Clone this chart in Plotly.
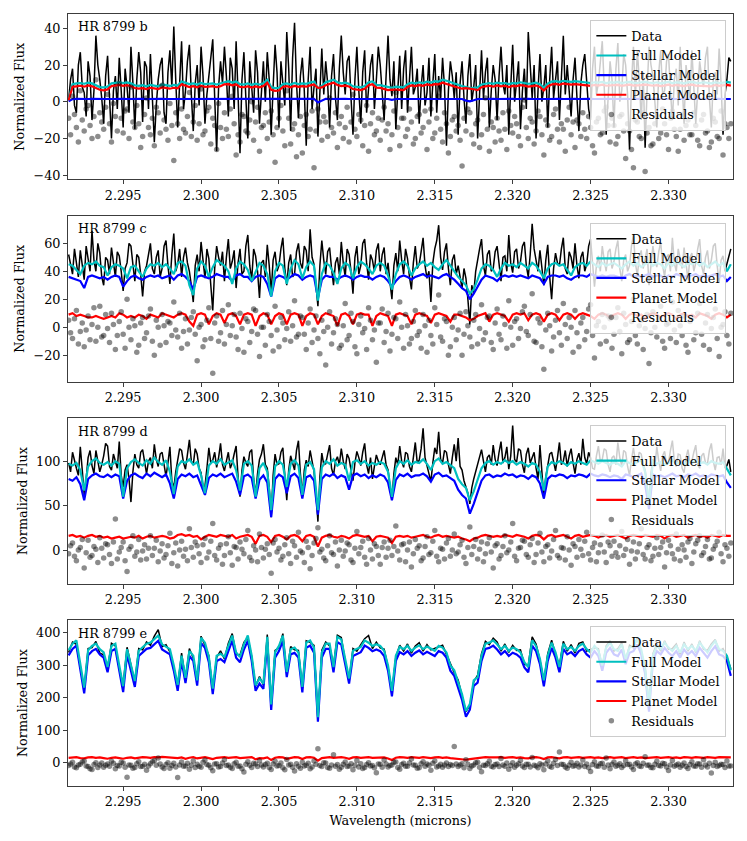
import plotly.graph_objects as go

# fine wavelength grid (microns); the models use every other point
wavelength_fine = [
    2.2915, 2.291625, 2.29175, 2.291875, 2.292, 2.292125, 2.29225, 2.292375,
    2.2925, 2.292625, 2.29275, 2.292875, 2.293, 2.293125, 2.29325, 2.293375,
    2.2935, 2.293625, 2.29375, 2.293875, 2.294, 2.294125, 2.29425, 2.294375,
    2.2945, 2.294625, 2.29475, 2.294875, 2.295, 2.295125, 2.29525, 2.295375,
    2.2955, 2.295625, 2.29575, 2.295875, 2.296, 2.296125, 2.29625, 2.296375,
    2.2965, 2.296625, 2.29675, 2.296875, 2.297, 2.297125, 2.29725, 2.297375,
    2.2975, 2.297625, 2.29775, 2.297875, 2.298, 2.298125, 2.29825, 2.298375,
    2.2985, 2.298625, 2.29875, 2.298875, 2.299, 2.299125, 2.29925, 2.299375,
    2.2995, 2.299625, 2.29975, 2.299875, 2.3, 2.300125, 2.30025, 2.300375,
    2.3005, 2.300625, 2.30075, 2.300875, 2.301, 2.301125, 2.30125, 2.301375,
    2.3015, 2.301625, 2.30175, 2.301875, 2.302, 2.302125, 2.30225, 2.302375,
    2.3025, 2.302625, 2.30275, 2.302875, 2.303, 2.303125, 2.30325, 2.303375,
    2.3035, 2.303625, 2.30375, 2.303875, 2.304, 2.304125, 2.30425, 2.304375,
    2.3045, 2.304625, 2.30475, 2.304875, 2.305, 2.305125, 2.30525, 2.305375,
    2.3055, 2.305625, 2.30575, 2.305875, 2.306, 2.306125, 2.30625, 2.306375,
    2.3065, 2.306625, 2.30675, 2.306875, 2.307, 2.307125, 2.30725, 2.307375,
    2.3075, 2.307625, 2.30775, 2.307875, 2.308, 2.308125, 2.30825, 2.308375,
    2.3085, 2.308625, 2.30875, 2.308875, 2.309, 2.309125, 2.30925, 2.309375,
    2.3095, 2.309625, 2.30975, 2.309875, 2.31, 2.310125, 2.31025, 2.310375,
    2.3105, 2.310625, 2.31075, 2.310875, 2.311, 2.311125, 2.31125, 2.311375,
    2.3115, 2.311625, 2.31175, 2.311875, 2.312, 2.312125, 2.31225, 2.312375,
    2.3125, 2.312625, 2.31275, 2.312875, 2.313, 2.313125, 2.31325, 2.313375,
    2.3135, 2.313625, 2.31375, 2.313875, 2.314, 2.314125, 2.31425, 2.314375,
    2.3145, 2.314625, 2.31475, 2.314875, 2.315, 2.315125, 2.31525, 2.315375,
    2.3155, 2.315625, 2.31575, 2.315875, 2.316, 2.316125, 2.31625, 2.316375,
    2.3165, 2.316625, 2.31675, 2.316875, 2.317, 2.317125, 2.31725, 2.317375,
    2.3175, 2.317625, 2.31775, 2.317875, 2.318, 2.318125, 2.31825, 2.318375,
    2.3185, 2.318625, 2.31875, 2.318875, 2.319, 2.319125, 2.31925, 2.319375,
    2.3195, 2.319625, 2.31975, 2.319875, 2.32, 2.320125, 2.32025, 2.320375,
    2.3205, 2.320625, 2.32075, 2.320875, 2.321, 2.321125, 2.32125, 2.321375,
    2.3215, 2.321625, 2.32175, 2.321875, 2.322, 2.322125, 2.32225, 2.322375,
    2.3225, 2.322625, 2.32275, 2.322875, 2.323, 2.323125, 2.32325, 2.323375,
    2.3235, 2.323625, 2.32375, 2.323875, 2.324, 2.324125, 2.32425, 2.324375,
    2.3245, 2.324625, 2.32475, 2.324875, 2.325, 2.325125, 2.32525, 2.325375,
    2.3255, 2.325625, 2.32575, 2.325875, 2.326, 2.326125, 2.32625, 2.326375,
    2.3265, 2.326625, 2.32675, 2.326875, 2.327, 2.327125, 2.32725, 2.327375,
    2.3275, 2.327625, 2.32775, 2.327875, 2.328, 2.328125, 2.32825, 2.328375,
    2.3285, 2.328625, 2.32875, 2.328875, 2.329, 2.329125, 2.32925, 2.329375,
    2.3295, 2.329625, 2.32975, 2.329875, 2.33, 2.330125, 2.33025, 2.330375,
    2.3305, 2.330625, 2.33075, 2.330875, 2.331, 2.331125, 2.33125, 2.331375,
    2.3315, 2.331625, 2.33175, 2.331875, 2.332, 2.332125, 2.33225, 2.332375,
    2.3325, 2.332625, 2.33275, 2.332875, 2.333, 2.333125, 2.33325, 2.333375,
    2.3335, 2.333625, 2.33375, 2.333875, 2.334,
]
wavelength = wavelength_fine[::2]

# ---- HR 8799 b ----
b_data = [
    1, 12, 18, -2, -6, 20, 27, 8, 5, -8, 22, 14, -10, 6, 36, 20, 12, 2, -12, 14,
    25, 4, -20, 6, 14, -4, 24, 6, -14, 18, 8, -6, 30, 10, -15, 12, 27, 16, -11, 22,
    19, -4, 26, 2, -22, -2, 12, 20, 24, -6, -12, 16, 28, 8, 41, 12, -14, 10, 33, -4,
    6, 22, 31, 4, -16, 10, 20, -2, 30, 14, -12, 4, 14, 24, 34, 2, -27, 8, 22, 10,
    30, 14, -8, 24, 18, -4, 33, 4, -28, 12, 27, 2, -20, 22, 10, -6, 28, 16, -12, 6,
    22, 0, 27, 12, -18, 8, 31, 16, -14, 22, 9, -2, 38, 18, -16, 24, 43, 10, -9, 14,
    24, 6, -24, 12, 30, -4, 8, 18, -19, 10, 29, 4, 22, 10, -14, 14, 26, 2, -10, 18,
    36, 16, 4, 22, 25, 2, -18, 12, 30, 6, -12, 16, 28, -6, 6, 20, 26, -4, 12, 30,
    20, 6, -10, 14, 36, 12, 3, 22, -15, 6, 25, -4, 18, 28, -6, 12, 30, 4, 8, 18,
    -12, 8, 20, -2, 5, 24, -8, 10, 26, -6, 14, 2, 24, 8, -24, 6, 22, 14, 2, 16,
    -18, 10, 22, 2, -12, 14, 26, 0, 8, 20, -20, 4, 28, 2, 16, 24, -14, 6, 20, 12,
    -10, 14, 30, 10, 4, 20, -18, 8, 31, 0, 12, 22, -15, 6, 18, -4, 38, 16, 2, 20,
    -20, 6, 26, 0, 8, 20, -14, 12, 30, 2, 14, 22, -10, 10, 36, 4, 20, 6, -8, 12,
    24, 2, -16, 10, 20, 26, 8, -4, -10, 18, 30, 4, 10, 20, 33, 8, -18, 2, 22, 12,
    -14, 18, 32, 0, 6, 26, 20, 4, -26, 10, 30, 2, 28, 12, -10, 16, -25, 6, 30, 20,
    14, 0, -14, 16, 28, 4, 6, 22, 26, 6, -10, 12, 18, -2, 30, 10, -12, 20, 10, 2,
    28, 10, -12, 6, 22, 14, 8, 24, 30, 2, -14, 12, 16, 4, 29, 10, -18, 4, 12, 24,
    22,
]
b_full = [
    1.0, 9.5, 10.0, 10.2, 9.8, 10.4, 10.0, 9.0, 8.0, 7.8,
    8.2, 10.0, 10.4, 10.6, 10.2, 10.5, 10.0, 9.0, 8.6, 9.0,
    8.4, 9.2, 8.8, 8.4, 9.4, 9.0, 8.6, 9.2, 8.8, 11.0,
    10.4, 9.6, 10.0, 9.4, 10.2, 9.6, 9.8, 10.0, 9.4, 10.0,
    11.0, 11.2, 10.4, 11.0, 9.6, 9.4, 10.0, 9.2, 9.8, 9.4,
    10.0, 12.0, 8.0, 7.4, 7.6, 9.6, 10.0, 9.4, 10.2, 9.6,
    10.0, 9.8, 10.4, 11.0, 7.2, 8.6, 10.6, 11.4, 12.0, 10.6,
    10.0, 10.4, 9.8, 8.4, 8.0, 7.8, 8.6, 10.6, 11.0, 9.2,
    9.0, 8.6, 7.8, 7.6, 8.2, 8.0, 7.8, 9.6, 10.4, 10.0,
    10.6, 10.2, 11.0, 10.4, 11.2, 11.0, 12.0, 11.4, 10.6, 9.8,
    9.0, 8.6, 8.0, 7.4, 7.6, 7.8, 9.4, 10.0, 10.2, 9.8,
    10.4, 10.0, 10.2, 9.6, 10.2, 10.0, 10.6, 10.2, 9.8, 10.0,
    10.4, 9.6, 7.6, 9.8, 11.0, 11.2, 10.8, 11.4, 11.0, 10.8,
    11.2, 11.0, 10.6, 10.4, 10.2, 10.6, 10.4, 10.8, 10.2, 10.6,
    10.4, 10.8, 10.2, 10.6, 10.8, 10.4, 10.2, 10.6, 10.8, 10.4,
    10.2, 10.6, 10.0, 10.4, 10.8, 10.2, 10.6, 10.4, 10.0, 10.6,
    10.8, 10.4, 10.2, 10.6, 10.4, 10.0, 10.6, 10.2, 10.4, 10.8,
    10.4,
]
b_stellar = [
    0.2, 1.4, 1.6, 1.5, 1.6, 1.5, 1.6, 1.5, 1.5, 1.6,
    1.5, 1.5, 1.6, 1.5, 1.6, 1.5, 1.6, 1.5, 1.5, 1.6,
    1.5, 1.6, 1.5, 1.5, 1.6, 1.5, 1.5, 1.6, 1.5, 1.5,
    1.5, 1.6, 1.5, 1.5, 1.6, 1.5, 1.6, 1.5, 1.5, 1.6,
    1.5, 1.6, 1.5, 1.6, 1.5, 1.5, 1.6, 1.5, 1.5, 1.6,
    1.5, 1.6, 1.5, 1.5, 1.5, 1.6, 1.5, 1.5, 1.6, 1.5,
    1.5, 1.6, 1.5, 1.6, -0.4, 0.8, 1.6, 1.5, 1.6, 1.5,
    1.5, 1.6, 1.5, 1.5, 1.6, 1.5, 1.5, 1.6, 1.5, 1.5,
    1.5, 1.5, 1.5, 1.0, 1.5, 1.5, 1.5, 1.6, 1.5, 1.5,
    1.6, 1.5, 1.6, 1.5, 1.6, 1.5, 1.6, 1.5, 1.6, 1.5,
    1.5, 1.5, 0.6, 0.2, 0.8, 1.5, 1.5, 1.6, 1.5, 1.6,
    1.5, 1.6, 1.5, 1.6, 1.6, 1.5, 1.6, 1.5, 1.6, 1.5,
    1.6, 1.5, 1.5, 1.5, 1.6, 1.5, 1.6, 1.5, 1.6, 1.5,
    1.6, 1.5, 1.6, 1.5, 1.6, 1.5, 1.6, 1.5, 1.5, 1.6,
    1.5, 1.6, 1.5, 1.6, 1.5, 1.6, 1.5, 1.6, 1.5, 1.6,
    1.5, 1.6, 1.5, 1.6, 1.5, 1.6, 1.5, 1.6, 1.5, 1.6,
    1.5, 1.6, 1.5, 1.6, 1.5, 1.6, 1.5, 1.6, 1.5, 1.6,
    1.5,
]
b_planet = [
    0.8, 8.1, 8.4, 8.7, 8.2, 8.9, 8.4, 7.5, 6.5, 6.2,
    6.7, 8.5, 8.8, 9.1, 8.6, 9.0, 8.4, 7.5, 7.1, 7.4,
    6.9, 7.6, 7.3, 6.9, 7.8, 7.5, 7.1, 7.6, 7.3, 9.5,
    8.9, 8.0, 8.5, 7.9, 8.6, 8.1, 8.2, 8.5, 7.9, 8.4,
    9.5, 9.6, 8.9, 9.4, 8.1, 7.9, 8.4, 7.7, 8.3, 7.8,
    8.5, 10.4, 6.5, 5.9, 6.1, 8.0, 8.5, 7.9, 8.6, 8.1,
    8.5, 8.2, 8.9, 9.4, 7.6, 7.8, 9.0, 9.9, 10.4, 9.1,
    8.5, 8.8, 8.3, 6.9, 6.4, 6.3, 7.1, 9.0, 9.5, 7.7,
    7.5, 7.1, 6.3, 6.6, 6.7, 6.5, 6.3, 8.0, 8.9, 8.5,
    9.0, 8.7, 9.4, 8.9, 9.6, 9.5, 10.4, 9.9, 9.0, 8.3,
    7.5, 7.1, 7.4, 7.2, 6.8, 6.3, 7.9, 8.4, 8.7, 8.2,
    8.9, 8.4, 8.7, 8.0, 8.6, 8.5, 9.0, 8.7, 8.2, 8.5,
    8.8, 8.1, 6.1, 8.3, 9.4, 9.7, 9.2, 9.9, 9.4, 9.3,
    9.6, 9.5, 9.0, 8.9, 8.6, 9.1, 8.8, 9.3, 8.7, 9.0,
    8.9, 9.2, 8.7, 9.0, 9.3, 8.8, 8.7, 9.0, 9.3, 8.8,
    8.7, 9.0, 8.5, 8.8, 9.3, 8.6, 9.1, 8.8, 8.5, 9.0,
    9.3, 8.8, 8.7, 9.0, 8.9, 8.4, 9.1, 8.6, 8.9, 9.2,
    8.8,
]
b_resid = [
    -9, -18, 3, -7, -14, -22, 6, -10, -16, -4, -2, -13, -20, -8, 12, -19, -6, -11, -15, -3,
    4, -12, -22, -1, -8, -16, 10, -9, -17, -5, -4, -20, 8, -11, -14, -2, -12, -25, -19, -7,
    2, -14, -18, -9, -24, -3, -6, -17, 9, -10, -15, -21, -1, -13, -32, -6, -12, -20, -4, -15,
    -17, -8, 5, -19, -11, -2, -21, -12, 7, -18, -16, -5, -3, -23, -9, -13, -26, -1, -14, -20,
    -6, -15, -19, -4, 3, -12, -29, -18, -22, -7, -8, -16, -17, -10, 0, -21, -11, -3, -27, -14,
    -13, -6, -20, -11, -5, -18, -33, -14, -9, -2, -16, -24, 6, -9, -23, -15, -12, -30, -18, -8,
    -28, -13, -7, -19, -15, -5, -36, -16, -4, -11, -21, -8, -11, -19, 2, -14, -17, -6, -25, -12,
    -8, -20, -14, -3, -22, -11, 4, -15, -19, -7, -10, -24, -13, -2, -27, -12, -6, -18, -16, -9,
    -21, -10, -3, -16, -12, -26, -18, -5, 5, -14, -24, -9, -9, -19, -15, -4, -11, -23, -20, -8,
    -7, -17, -14, -5, -26, -11, -4, -20, -17, -9, 3, -15, -22, -6, -12, -28, -19, -10, -8, -16,
    -13, -21, -35, -9, -16, -4, -6, -18, -23, -12, -10, -25, -18, -7, 2, -15, -27, -11, -14, -22,
    -9, -16, -21, -6, -15, -26, -5, -13, -17, -8, -12, -19, -24, -3, 1, -14, -20, -9, -11, -23,
    -16, -5, -8, -18, -29, -10, -13, -21, -19, -7, -4, -15, -22, -12, -15, -27, -10, -3, -18, -11,
    -25, -10, -12, -19, -6, -15, -20, -8, -14, -24, -28, -11, -9, -18, -17, -5, -3, -13, -22, -9,
    -13, -23, -19, -8, -7, -16, -31, -12, -16, -26, -36, -10, -11, -19, -20, -6, -38, -17, -14, -24,
    -23, -12, -8, -20, -17, -4, -12, -18, -26, -9, -5, -15, -19, -27, -15, -7, -21, -13, -10, -18,
    -18, -6, -13, -21, -24, -10, -7, -17, -16, -25, -22, -9, -11, -19, -20, -5, -29, -12, -14, -20,
    -12,
]

# ---- HR 8799 c ----
c_data = [
    52, 44, 38, 56, 47, 36, 55, 42, 34, 58, 50, 40, 69, 48, 40, 60, 53, 36, 30, 50,
    48, 38, 57, 44, 36, 54, 51, 40, 26, 42, 46, 60, 58, 45, 33, 52, 50, 38, 22, 40,
    44, 52, 60, 42, 38, 50, 55, 36, 42, 58, 62, 44, 31, 52, 67, 40, 45, 56, 36, 50,
    57, 46, 40, 30, 18, 44, 52, 40, 61, 48, 35, 56, 49, 30, 12, 42, 58, 50, 44, 54,
    33, 50, 63, 42, 47, 55, 28, 46, 56, 38, 40, 58, 66, 44, 34, 56, 51, 40, 21, 46,
    48, 36, 59, 44, 25, 48, 54, 40, 44, 56, 64, 42, 30, 46, 52, 36, 38, 54, 60, 46,
    42, 58, 55, 40, 70, 50, 45, 30, 15, 44, 62, 48, 38, 54, 57, 42, 30, 46, 50, 38,
    61, 46, 36, 56, 52, 40, 24, 50, 58, 38, 44, 60, 63, 46, 34, 52, 48, 40, 55, 60,
    40, 52, 57, 38, 46, 32, 20, 44, 53, 40, 62, 48, 38, 56, 49, 36, 27, 46, 58, 42,
    45, 54, 64, 44, 35, 40, 18, 46, 56, 62, 73, 50, 41, 54, 60, 42, 30, 48, 52, 38,
    44, 36, 28, 42, 35, 20, 2, 30, 24, 40, 49, 56, 63, 44, 37, 52, 55, 40, 42, 54,
    58, 44, 33, 50, 51, 40, 66, 46, 39, 54, 56, 42, 47, 58, 61, 44, 36, 52, 74, 56,
    48, 40, 55, 44, 30, 48, 59, 36, 20, 42, 53, 46, 44, 56, 64, 42, 38, 54, 50, 42,
    60, 44, 35, 50, 54, 40, 45, 58, 63, 46, 29, 44, 51, 40, 58, 48, 40, 54, 56, 42,
    47, 56, 62, 42, 33, 48, 52, 40, 44, 58, 66, 46, 37, 50, 55, 42, 49, 56, 30, 46,
    58, 48, 43, 54, 61, 44, 36, 50, 52, 40, 64, 46, 40, 56, 50, 42, 57, 46, 34, 50,
    53, 40, 46, 56, 63, 44, 38, 50, 55, 42, 48, 58, 60, 44, 32, 48, 51, 40, 45, 52,
    56,
]
c_full = [
    45, 44, 41, 38, 44, 46, 45, 47, 44, 43,
    37, 43, 45, 44, 42, 35, 43, 44, 40, 36,
    42, 45, 44, 46, 43, 45, 42, 38, 46, 47,
    44, 30, 23, 42, 47, 44, 36, 43, 48, 46,
    44, 40, 31, 42, 47, 45, 41, 33, 40, 46,
    44, 38, 22, 40, 46, 44, 31, 42, 48, 45,
    35, 43, 47, 44, 19, 38, 46, 44, 39, 31,
    42, 46, 44, 35, 43, 47, 45, 42, 38, 44,
    46, 44, 37, 27, 38, 45, 47, 44, 37, 42,
    45, 47, 44, 46, 43, 41, 45, 48, 44, 40,
    36, 33, 30, 24, 27, 34, 42, 45, 44, 41,
    36, 42, 46, 44, 45, 43, 46, 44, 42, 46,
    44, 40, 35, 42, 45, 46, 44, 45, 41, 37,
    43, 45, 46, 44, 47, 45, 43, 46, 44, 45,
    46, 44, 42, 45, 47, 44, 46, 43, 45, 47,
    44, 46, 45, 42, 46, 44, 47, 45, 43, 46,
    45, 47, 44, 46, 43, 45, 47, 44, 46, 40,
    45,
]
c_stellar = [
    36, 35, 34, 33, 28, 36, 37, 36, 35, 36,
    34, 36, 37, 36, 29, 33, 36, 37, 35, 34,
    36, 37, 36, 37, 35, 36, 37, 34, 37, 38,
    36, 33, 27, 36, 37, 36, 35, 36, 38, 37,
    36, 36, 33, 37, 38, 36, 36, 33, 36, 37,
    36, 31, 22, 35, 37, 36, 34, 36, 38, 37,
    34, 36, 37, 36, 21, 34, 37, 36, 36, 34,
    36, 37, 36, 34, 36, 37, 36, 36, 34, 36,
    37, 36, 33, 29, 33, 36, 37, 36, 34, 36,
    37, 38, 36, 37, 36, 35, 37, 38, 36, 34,
    31, 28, 26, 20, 24, 29, 34, 37, 36, 35,
    33, 36, 37, 36, 37, 36, 37, 36, 35, 37,
    36, 35, 31, 36, 37, 37, 36, 37, 35, 34,
    36, 37, 37, 36, 38, 37, 36, 37, 36, 37,
    37, 36, 35, 37, 38, 36, 37, 36, 37, 38,
    36, 37, 37, 35, 37, 36, 38, 37, 36, 37,
    37, 38, 36, 37, 36, 37, 38, 36, 37, 33,
    36,
]
c_planet = [
    9, 10, 8, 9, 8, 7, 7, 8, 7, 6,
    7, 8, 7, 10, 9, 7, 8, 7, 9, 8,
    6, 9, 8, 7, 10, 9, 8, 7, 9, 10,
    9, 4, 1, 9, 10, 9, 2, 8, 10, 9,
    3, 9, 10, 8, 2, 9, 10, 9, 1, 8,
    10, 9, 2, 8, 10, 9, 2, 9, 10, 9,
    1, 8, 10, 9, 2, 8, 10, 9, 8, 1,
    9, 10, 8, 2, 9, 10, 9, 9, 1, 8,
    10, 9, 8, 1, 9, 10, 9, 8, 2, 9,
    10, 9, 8, 3, 9, 10, 9, 8, 4, 9,
    9, 8, 7, 5, 6, 8, 9, 10, 4, 9,
    10, 9, 8, 4, 9, 10, 9, 10, 5, 9,
    10, 9, 4, 9, 10, 9, 5, 9, 10, 9,
    6, 9, 10, 9, 8, 6, 9, 10, 9, 7,
    9, 10, 9, 6, 9, 10, 8, 9, 6, 9,
    10, 9, 7, 9, 10, 9, 6, 9, 10, 8,
    9, 7, 10, 9, 8, 6, 9, 10, 9, 7,
    9,
]
c_resid = [
    5, -4, -8, 6, 12, -12, -3, 3, -14, -2, 8, -9, 2, 14, -10, 0, 15, -7, -6, 9,
    -1, -11, 10, 2, -16, -6, 4, 11, -5, -15, 20, 0, -9, 6, 1, -18, -13, 3, 7, -8,
    -4, 8, 13, -10, -20, 5, 0, -13, 9, 1, -11, 4, 3, -6, 18, -2, -7, 10, -15, -3,
    6, -12, -2, 7, 11, -5, -24, 0, 2, -14, -9, 5, 14, -8, -33, 3, 8, -10, -4, 12,
    -12, 2, 16, -6, 1, 9, -7, -16, 10, -1, -18, 6, 4, -11, -3, 13, 12, -5, -21, 0,
    0, -13, 9, 4, -6, -17, 15, -2, -14, 7, 3, -9, -1, 11, -10, 1, 19, -7, -5, 8,
    7, -5, -16, 3, 13, -11, -2, 8, -8, -19, 5, -3, -27, 0, 11, -12, -4, 6, 2, -15,
    -13, 1, 17, -9, -6, 10, 4, -14, -19, 2, 8, -4, -1, -16, 14, 5, -9, -2, -25, 3,
    3, 13, -11, -3, 10, -17, -5, 7, 6, -8, 18, 0, -15, 9, 1, -12, -8, 4, 12, -6,
    -3, -15, 9, 1, -18, 5, -6, -12, 14, 2, 23, -7, -10, 6, 4, -20, -14, 0, 7, -9,
    -2, 10, -20, -5, 11, 1, -7, -14, 5, 9, -12, -1, 16, -9, -4, 7, 8, -11, -16, 3,
    13, -5, -9, 8, 2, -15, 19, 0, -13, 4, 6, -8, -1, 11, 15, -3, -6, 9, 24, -10,
    -11, 6, 3, -14, -30, -2, 10, 1, -17, -7, 5, 12, -4, -13, 17, 2, -8, 7, 0, -18,
    12, -4, -14, 3, 7, -9, -3, 13, 16, -6, -22, 1, 4, -12, 9, 0, -10, 8, 6, -15,
    -5, 7, 14, -3, -19, 10, 2, -11, -9, 4, 20, -6, -12, 1, 5, -16, -1, 9, -26, -4,
    11, 0, -7, 6, 15, -10, -15, 2, 3, -8, 18, -2, -11, 12, 1, -6, 8, -13, -18, 4,
    6, -9, -4, 10, 17, -5, -13, 3, 9, -16, -1, 7, 13, -8, -21, 0, 2, 11, -6, -12,
    10,
]

# ---- HR 8799 d ----
d_data = [
    98, 88, 110, 100, 92, 84, 116, 90, 62, 80, 104, 112, 95, 86, 112, 100, 88, 96, 106, 120,
    117, 94, 90, 108, 101, 92, 122, 84, 71, 90, 96, 80, 54, 88, 108, 96, 92, 110, 113, 98,
    86, 100, 104, 92, 119, 102, 94, 108, 110, 96, 83, 98, 116, 78, 70, 88, 100, 114, 112, 98,
    91, 106, 124, 100, 96, 114, 108, 92, 87, 68, 72, 92, 115, 98, 101, 110, 93, 104, 120, 96,
    89, 100, 110, 92, 98, 108, 117, 82, 60, 90, 105, 98, 94, 110, 113, 80, 62, 86, 102, 108,
    119, 96, 92, 70, 37, 84, 108, 96, 97, 110, 115, 84, 56, 90, 106, 98, 90, 112, 123, 86,
    62, 90, 101, 94, 112, 100, 88, 64, 32, 82, 109, 96, 97, 108, 118, 92, 84, 100, 105, 96,
    114, 100, 91, 108, 103, 90, 78, 98, 111, 104, 95, 110, 120, 96, 86, 104, 80, 94, 107, 100,
    96, 104, 112, 96, 90, 72, 58, 86, 104, 96, 117, 100, 93, 110, 108, 94, 88, 104, 121, 98,
    101, 114, 137, 104, 94, 86, 77, 98, 115, 108, 133, 102, 98, 112, 110, 96, 86, 104, 119, 100,
    126, 94, 90, 78, 72, 64, 52, 70, 80, 88, 96, 106, 113, 100, 88, 104, 107, 96, 118, 102,
    95, 110, 122, 98, 104, 116, 91, 106, 140, 102, 99, 114, 112, 96, 87, 108, 115, 98, 103, 110,
    92, 80, 118, 84, 58, 82, 96, 108, 110, 98, 89, 104, 121, 96, 100, 112, 94, 106, 114, 98,
    86, 102, 109, 96, 125, 104, 97, 110, 104, 92, 91, 106, 117, 100, 102, 114, 112, 96, 88, 104,
    106, 96, 121, 104, 95, 112, 110, 94, 84, 102, 115, 100, 99, 110, 108, 96, 90, 72, 50, 86,
    102, 94, 116, 100, 89, 106, 111, 96, 98, 112, 123, 100, 94, 108, 107, 92, 87, 104, 113, 98,
    100, 110, 118, 96, 92, 106, 109, 98, 97, 112, 120, 100, 90, 104, 105, 96, 114, 92, 95, 102,
    88,
]
d_full = [
    97, 95, 98, 90, 67, 94, 100, 103, 98, 96,
    99, 95, 100, 97, 60, 92, 99, 102, 98, 95,
    101, 97, 104, 99, 96, 101, 88, 63, 94, 100,
    98, 102, 96, 99, 84, 64, 95, 100, 97, 102,
    96, 99, 101, 90, 67, 97, 100, 95, 60, 92,
    98, 88, 45, 94, 100, 96, 71, 97, 101, 95,
    62, 96, 99, 91, 45, 93, 100, 97, 102, 95,
    98, 96, 78, 99, 101, 97, 100, 95, 98, 96,
    99, 97, 88, 60, 92, 100, 97, 101, 96, 99,
    98, 102, 97, 90, 100, 103, 97, 99, 95, 92,
    80, 74, 70, 56, 66, 78, 92, 98, 100, 96,
    99, 97, 101, 98, 100, 96, 99, 97, 94, 98,
    96, 88, 67, 94, 99, 97, 100, 98, 95, 99,
    97, 100, 98, 96, 101, 99, 97, 100, 98, 96,
    99, 97, 94, 100, 98, 96, 99, 101, 88, 52,
    100, 97, 99, 96, 98, 101, 97, 99, 96, 100,
    98, 101, 97, 99, 96, 100, 98, 97, 99, 92,
    84,
]
d_stellar = [
    80, 78, 82, 74, 56, 80, 84, 86, 83, 82,
    85, 82, 85, 83, 58, 78, 84, 86, 83, 81,
    86, 83, 87, 84, 82, 85, 75, 58, 80, 85,
    83, 86, 82, 84, 72, 62, 81, 85, 83, 86,
    82, 84, 86, 77, 62, 83, 85, 81, 58, 79,
    84, 76, 37, 80, 85, 82, 64, 83, 86, 81,
    58, 82, 84, 78, 40, 80, 85, 83, 86, 81,
    84, 82, 68, 84, 86, 83, 85, 81, 84, 82,
    85, 83, 76, 56, 79, 85, 83, 86, 82, 84,
    84, 86, 83, 77, 85, 87, 83, 84, 81, 78,
    68, 62, 58, 41, 52, 64, 78, 84, 85, 82,
    84, 83, 86, 84, 85, 82, 84, 83, 80, 84,
    82, 75, 58, 80, 84, 83, 85, 84, 81, 84,
    83, 85, 84, 82, 86, 84, 83, 85, 84, 82,
    84, 83, 80, 85, 84, 82, 84, 86, 74, 46,
    85, 83, 84, 82, 84, 86, 83, 84, 82, 85,
    84, 86, 83, 84, 82, 85, 84, 83, 84, 76,
    70,
]
d_planet = [
    16, 17, 15, 16, 14, 16, 17, 15, 16, 14,
    15, 13, 14, 15, 13, 14, 15, 14, 16, 13,
    15, 16, 14, 15, 16, 15, 13, 14, 17, 18,
    16, 17, 15, 16, 12, 15, 17, 16, 15, 17,
    16, 15, 17, 13, 15, 16, 17, 15, 7, 16,
    17, 15, 9, 16, 17, 15, 12, 16, 17, 15,
    10, 16, 17, 15, 4, 14, 16, 17, 15, 14,
    16, 15, 13, 16, 17, 16, 15, 16, 10, 15,
    16, 15, 14, 8, 15, 16, 15, 16, 14, 15,
    16, 17, 15, 14, 16, 17, 15, 16, 15, 14,
    15, 13, 12, 10, 13, 14, 16, 17, 16, 15,
    16, 15, 17, 16, 15, 17, 16, 15, 13, 16,
    17, 16, 12, 16, 17, 15, 16, 17, 15, 13,
    16, 17, 15, 16, 17, 16, 14, 16, 17, 15,
    16, 17, 15, 13, 16, 17, 16, 15, 17, 16,
    15, 17, 16, 13, 16, 17, 15, 16, 17, 14,
    16, 17, 15, 16, 14, 17, 16, 15, 17, 16,
    16,
]
d_resid = [
    -4, 5, 8, -7, -12, 0, 3, 12, -20, -3, 11, -8, -6, 4, 1, -14, 14, 2, -9, 7,
    6, -5, -15, 9, 35, -10, -2, 3, 9, -12, -24, 1, 4, 16, -7, -2, 12, -11, -1, 6,
    -10, 2, 16, -6, 2, 11, -13, -1, 7, -9, -5, 5, 19, -15, -3, 8, -18, 0, 10, -7,
    1, -12, 24, 3, -8, 9, 5, -4, -14, 6, 13, -9, -2, 10, 30, -6, -11, 2, 6, -16,
    -6, 7, 15, -3, -17, 4, 3, -10, 9, 1, -4, 12, 22, -8, -12, 5, 0, -13, 18, 3,
    -9, 1, 7, -5, -26, 8, 12, -2, 2, -11, -7, 6, 14, -4, -15, 10, 5, -8, 20, -1,
    -3, -14, 10, 3, -21, -6, 8, 13, 25, -2, 1, -9, -12, 5, 16, -3, -5, 9, -18, 0,
    11, -7, -1, 8, 6, -11, -14, 2, 21, -4, 3, 10, -8, -16, 13, 0, -10, 7, 4, -6,
    -16, 3, 9, -8, 2, 11, -6, 4, 27, -1, -11, 6, 7, -13, 0, 9, -19, -4, 12, 2,
    5, -12, -9, 4, 15, -5, -3, 10, 22, -7, -13, 2, 1, -10, 8, 13, -7, 0, 18, -4,
    -2, 6, 11, -8, -15, 3, 26, -5, 4, 12, -10, 1, 9, -13, -4, 7, 14, -2, -20, 5,
    7, -10, -6, 4, 16, -3, 0, 9, 30, -7, -12, 2, 3, 11, 10, -5, -8, 6, 13, -14,
    -5, 8, 19, -2, -13, 4, 6, -9, -1, 12, 22, -6, -9, 3, 2, -11, 15, 0, -17, 7,
    4, -8, 12, 1, -6, 10, 20, -4, -11, 3, 8, -13, -3, 6, 17, -2, -14, 9, 5, -7,
    10, -3, -8, 5, 21, -6, 1, 12, -16, -1, 9, -10, -2, 7, 24, -5, -10, 3, 6, -12,
    -7, 2, 14, -5, 3, 9, -19, -3, 11, 5, -4, -10, 18, 1, -12, 6, 0, -8, 9, 13,
    -15, -2, 7, 11, 16, -6, -3, 4, 12, -10, -9, 1, 5, 10, 20, -4, -13, 6, 2, -7,
    8,
]

# ---- HR 8799 e ----
e_data = [
    340, 372, 365, 300, 228, 352, 355, 374, 338, 333,
    290, 368, 360, 292, 240, 356, 296, 247, 352, 348,
    372, 362, 390, 410, 358, 364, 342, 293, 235, 338,
    258, 352, 322, 250, 390, 362, 330, 223, 325, 345,
    320, 368, 398, 334, 332, 371, 386, 326, 236, 266,
    240, 395, 174, 346, 354, 398, 275, 358, 348, 346,
    230, 376, 371, 362, 132, 347, 372, 360, 300, 393,
    386, 314, 255, 352, 344, 364, 382, 392, 352, 372,
    354, 350, 295, 218, 326, 362, 344, 366, 338, 360,
    370, 344, 364, 348, 352, 356, 362, 334, 305, 278,
    255, 206, 158, 176, 250, 270, 336, 374, 364, 384,
    372, 344, 366, 340, 362, 346, 348, 304, 300, 388,
    366, 316, 250, 336, 378, 334, 300, 374, 344, 364,
    338, 368, 372, 344, 348, 354, 352, 296, 360, 376,
    344, 352, 370, 316, 362, 354, 386, 344, 296, 178,
    336, 366, 344, 376, 350, 352, 366, 334, 372, 344,
    366, 340, 376, 350, 346, 366, 380, 344, 352, 325,
    290,
]
e_full = [
    347, 367, 377, 306, 232, 347, 360, 367, 350, 340,
    295, 360, 367, 300, 236, 350, 300, 252, 345, 355,
    367, 370, 382, 392, 365, 357, 350, 300, 240, 330,
    262, 345, 330, 254, 385, 370, 326, 229, 330, 336,
    326, 360, 392, 340, 326, 365, 392, 330, 239, 260,
    244, 388, 180, 340, 360, 392, 280, 350, 355, 340,
    234, 370, 377, 355, 141, 340, 367, 367, 295, 388,
    380, 320, 260, 345, 350, 357, 377, 370, 360, 365,
    360, 345, 300, 222, 330, 357, 350, 360, 345, 355,
    362, 350, 358, 352, 345, 360, 355, 340, 300, 285,
    250, 211, 160, 181, 254, 264, 330, 367, 370, 377,
    365, 350, 360, 345, 355, 350, 340, 310, 295, 377,
    360, 320, 254, 330, 370, 340, 295, 367, 350, 357,
    345, 360, 367, 350, 340, 360, 345, 300, 355, 370,
    350, 345, 365, 320, 355, 360, 380, 350, 290, 175,
    330, 360, 350, 370, 355, 345, 360, 340, 365, 350,
    360, 345, 370, 355, 340, 360, 375, 350, 345, 330,
    285,
]
e_stellar = [
    331, 351, 361, 290, 214, 331, 344, 351, 334, 324,
    279, 344, 351, 284, 218, 334, 284, 234, 329, 339,
    351, 354, 366, 376, 349, 341, 334, 284, 222, 314,
    246, 329, 314, 238, 369, 354, 310, 212, 314, 320,
    310, 344, 376, 324, 310, 349, 376, 314, 222, 244,
    228, 372, 163, 324, 344, 376, 264, 334, 339, 324,
    217, 354, 361, 339, 127, 324, 351, 351, 279, 372,
    364, 304, 244, 329, 334, 341, 361, 354, 344, 349,
    344, 329, 284, 205, 314, 341, 334, 344, 329, 339,
    346, 334, 342, 336, 329, 344, 339, 324, 284, 268,
    232, 194, 142, 164, 237, 247, 314, 351, 354, 361,
    349, 334, 344, 329, 339, 334, 324, 294, 279, 361,
    344, 304, 236, 314, 354, 324, 279, 351, 334, 341,
    329, 344, 351, 334, 324, 344, 329, 284, 339, 354,
    334, 329, 349, 304, 339, 344, 364, 334, 274, 158,
    314, 344, 334, 354, 339, 329, 344, 324, 349, 334,
    344, 329, 354, 339, 324, 344, 359, 334, 329, 314,
    268,
]
e_planet = [
    16, 17, 18, 15, 14, 17, 18, 16, 17, 15,
    13, 16, 17, 15, 13, 16, 17, 14, 16, 18,
    17, 16, 18, 17, 19, 18, 16, 14, 15, 17,
    13, 16, 18, 14, 17, 18, 15, 12, 16, 17,
    18, 16, 17, 18, 15, 16, 17, 18, 11, 15,
    14, 17, 9, 16, 18, 17, 13, 16, 18, 17,
    12, 17, 18, 16, 7, 15, 17, 18, 16, 17,
    18, 16, 13, 17, 18, 16, 17, 18, 16, 17,
    18, 17, 14, 9, 16, 18, 17, 16, 18, 17,
    16, 18, 17, 15, 17, 18, 16, 17, 15, 14,
    13, 11, 10, 12, 14, 15, 17, 18, 17, 16,
    17, 18, 16, 17, 18, 16, 17, 15, 14, 17,
    18, 16, 12, 17, 18, 16, 14, 17, 18, 16,
    17, 18, 16, 17, 18, 16, 17, 15, 17, 18,
    16, 17, 18, 15, 17, 18, 16, 17, 15, 16,
    17, 18, 16, 17, 18, 16, 17, 15, 18, 17,
    16, 18, 17, 16, 18, 17, 16, 18, 17, 16,
    17,
]
e_resid = [
    -8, -3, 2, -12, -15, -6, -4, 3, 6, -9, -11, -18, -20, -5, 1, -14, -6, 0, -13, -7,
    -3, -10, 5, -1, -18, -8, -9, 2, 0, -13, -44, -6, -7, -16, -14, -2, 4, -11, -10, -4,
    -22, -9, -2, 4, 8, -7, 15, -3, -12, -17, -5, 1, -16, -8, -1, -12, -45, -6, 3, -10,
    -9, -1, -19, -7, 6, -14, -4, -10, -13, 2, 9, -5, -7, -15, -24, -3, -2, -12, -11, 0,
    10, -8, -6, -13, -17, -2, 2, -10, -9, -18, -28, -4, 4, -7, -14, -1, -3, -11, 7, -6,
    -12, -5, -1, -14, -20, -3, 5, -9, -8, 0, -15, -21, 11, -6, -4, -13, -25, -2, -10, -16,
    2, -9, -7, -1, -18, -12, 6, -4, 44, -8, -11, 1, 0, -14, -16, -6, 25, -10, -5, -19,
    -13, -4, 3, -11, -9, -2, -21, -7, 8, -12, -2, -17, -14, -5, 1, -9, -8, -15, -30, -3,
    -4, -13, 9, -3, -12, -8, -6, 2, 3, -14, -19, -5, -1, -10, -10, 0, 12, -6, -7, -16,
    -15, -2, 4, -10, -3, -7, -22, -1, 6, -12, -9, -4, -13, -6, 0, -11, -5, -8, 51, -3,
    -11, -6, -2, -15, 10, -4, -17, -9, -6, 1, 2, -13, -27, -7, -8, -2, 5, -10, -12, -5,
    -3, -11, 14, -6, -10, 0, -19, -8, 1, -13, -7, -2, 8, -9, -14, -4, -4, -12, 17, -7,
    -9, -15, -2, -6, -21, -3, 6, -10, -13, -1, 11, -8, 34, -4, -5, -12, -16, -7, 2, -10,
    -8, -1, -12, -6, 9, -11, -3, -15, -26, -5, 4, -9, -10, -2, -1, -13, 15, -6, -18, -4,
    3, -10, -7, -2, -14, -8, 7, -5, -4, -12, -20, -3, 1, -9, -11, -1, 19, -7, -6, -14,
    -15, -4, 5, -8, -9, -1, -2, -12, -23, -6, 8, -10, -6, -3, -13, -7, 0, -11, -17, -5,
    4, -9, -10, -2, -3, -13, 10, -6, -12, -1, -31, -8, 2, -11, -8, -4, -5, -14, 6, -9,
    -9,
]

planet_names = ["HR 8799 b", "HR 8799 c", "HR 8799 d", "HR 8799 e"]
y_ranges = [[-42.3, 47.8], [-39.1, 79.7], [-37.9, 148], [-70.8, 439]]
y_dticks = [20, 20, 50, 100]

FONT = "DejaVu Serif"
FSIZE = 12.8
AXIS_COLOR = "#3c3c3c"

# (data x, data, full, stellar, planet, residuals)
panels = [
    (wavelength_fine, b_data, b_full, b_stellar, b_planet, b_resid),
    (wavelength_fine, c_data, c_full, c_stellar, c_planet, c_resid),
    (wavelength_fine, d_data, d_full, d_stellar, d_planet, d_resid),
    (wavelength, e_data, e_full, e_stellar, e_planet, e_resid),
]

# panel domains (paper coords) and legend top positions
domains = [[0.7858, 1.0], [0.5235, 0.7386], [0.2619, 0.4761], [0.0, 0.2147]]
legend_tops = [0.9922, 0.7295, 0.4674, 0.2069]

fig = go.Figure()
# the page body adds an 8px offset, so the figure is 8px smaller than the window
layout = dict(
    width=739,
    height=833,
    margin=dict(l=60, r=14, t=6, b=55),
    paper_bgcolor="white",
    plot_bgcolor="white",
    font=dict(family=FONT, size=FSIZE, color="black"),
    annotations=[],
)

for k, (data_x, data, full, stellar, planet, resid) in enumerate(panels):
    n = "" if k == 0 else str(k + 1)
    xa, ya, leg = "x" + n, "y" + n, "legend" + n
    axes = dict(xaxis=xa, yaxis=ya, legend=leg)
    # stellar is drawn under the full model; legendrank keeps the legend order
    fig.add_trace(go.Scatter(x=data_x, y=data, mode="lines", name="Data", legendrank=1,
                             line=dict(color="black", width=1.5), **axes))
    fig.add_trace(go.Scatter(x=wavelength, y=stellar, mode="lines", name="Stellar Model",
                             legendrank=3, line=dict(color="#0000ff", width=2.2), **axes))
    fig.add_trace(go.Scatter(x=wavelength, y=full, mode="lines", name="Full Model",
                             legendrank=2, line=dict(color="#00bfbf", width=2.2), **axes))
    fig.add_trace(go.Scatter(x=wavelength, y=planet, mode="lines", name="Planet Model",
                             legendrank=4, line=dict(color="#ff0000", width=2.2), **axes))
    fig.add_trace(go.Scatter(x=wavelength_fine, y=resid, mode="markers", name="Residuals",
                             legendrank=5,
                             marker=dict(color="rgba(0,0,0,0.45)", size=5.5,
                                         line=dict(width=0)), **axes))

    layout["xaxis" + n] = dict(
        domain=[0, 1], anchor=ya, range=[2.29146, 2.33414],
        tick0=2.295, dtick=0.005, tickformat=".3f",
        showgrid=False, zeroline=False,
        showline=True, mirror=True, linecolor=AXIS_COLOR, linewidth=1,
        ticks="outside", ticklen=4, tickcolor=AXIS_COLOR,
        tickfont=dict(family=FONT, size=FSIZE, color="black"),
    )
    layout["yaxis" + n] = dict(
        domain=domains[k], anchor=xa, range=y_ranges[k], dtick=y_dticks[k],
        showgrid=False, zeroline=False,
        showline=True, mirror=True, linecolor=AXIS_COLOR, linewidth=1,
        ticks="outside", ticklen=4, tickcolor=AXIS_COLOR,
        tickfont=dict(family=FONT, size=FSIZE, color="black"),
        title=dict(text="Normalized Flux", standoff=5,
                   font=dict(family=FONT, size=FSIZE, color="black")),
    )
    layout[leg] = dict(
        x=0.990, xanchor="right", y=legend_tops[k], yanchor="top",
        bgcolor="rgba(255,255,255,0.8)", bordercolor="#cccccc", borderwidth=1,
        font=dict(family=FONT, size=FSIZE, color="black"),
        traceorder="normal",
    )
    layout["annotations"].append(dict(
        text=planet_names[k], xref=xa + " domain", yref=ya + " domain",
        x=0.0126, y=0.923, xanchor="left", yanchor="middle", showarrow=False,
        font=dict(family=FONT, size=FSIZE, color="black"),
    ))

layout["xaxis4"]["title"] = dict(text="Wavelength (microns)", standoff=7,
                                 font=dict(family=FONT, size=FSIZE, color="black"))

fig.update_layout(**layout)
fig.write_html("out.html")
